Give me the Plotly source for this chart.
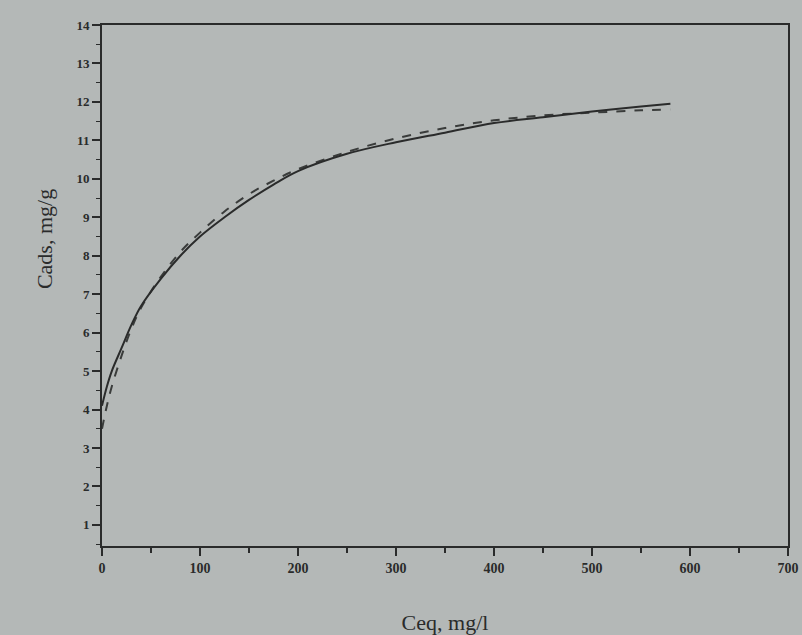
import plotly.graph_objects as go

ceq = [0, 5, 10, 20, 30, 40, 60, 80, 100, 125, 150, 175, 200, 250, 300, 350, 400, 450, 500, 550, 580]
cads_solid = [4.1, 4.6, 5.0, 5.6, 6.2, 6.7, 7.4, 8.0, 8.5, 9.0, 9.45, 9.85, 10.2, 10.65, 10.95, 11.2, 11.45, 11.6, 11.75, 11.88, 11.95]
cads_dashed = [3.5, 4.1, 4.6, 5.4, 6.1, 6.65, 7.45, 8.1, 8.6, 9.15, 9.6, 9.95, 10.25, 10.7, 11.05, 11.32, 11.52, 11.65, 11.72, 11.78, 11.8]

x_ticks = [0, 100, 200, 300, 400, 500, 600, 700]
y_ticks = list(range(1, 15))

bg = "#b4b8b7"
ink = "#2a2b2b"

fig = go.Figure()
fig.add_trace(go.Scatter(x=ceq, y=cads_dashed, mode="lines", line=dict(color="#3a3c3b", width=2, dash="dash", shape="spline"), showlegend=False))
fig.add_trace(go.Scatter(x=ceq, y=cads_solid, mode="lines", line=dict(color=ink, width=2, shape="spline"), showlegend=False))

font_family = "Liberation Serif"
fig.update_layout(
    width=802, height=635,
    margin=dict(l=102, r=14, t=25, b=89),
    paper_bgcolor=bg, plot_bgcolor=bg,
    font=dict(family=font_family, color=ink),
)
fig.update_xaxes(
    range=[0, 700], tickvals=x_ticks, ticktext=[str(v) for v in x_ticks],
    automargin=False,
    showgrid=False, zeroline=False, showline=True, linecolor=ink, linewidth=2, mirror=True,
    ticks="outside", ticklen=8, tickwidth=1.5, tickcolor=ink,
    minor=dict(ticks="outside", dtick=50, ticklen=5, tickcolor=ink, tickwidth=1.5),
    tickfont=dict(size=14, family=font_family, weight="bold"),
    title=dict(text="Ceq, mg/l", font=dict(size=22, family=font_family), standoff=40),
)
fig.update_yaxes(
    range=[0.45, 14], tickvals=y_ticks, ticktext=[str(v) for v in y_ticks],
    automargin=False,
    showgrid=False, zeroline=False, showline=True, linecolor=ink, linewidth=2, mirror=True,
    ticks="outside", ticklen=8, tickwidth=1.5, tickcolor=ink,
    minor=dict(ticks="outside", dtick=0.5, ticklen=4, tickcolor=ink, tickwidth=1.2),
    tickfont=dict(size=13, family=font_family, weight="bold"),
)
fig.add_annotation(text="Cads, mg/g", xref="paper", yref="paper", x=-0.105, y=0.59,
                   textangle=-90, showarrow=False, font=dict(size=22, family=font_family, color=ink))
fig.write_html("out.html", config={"displayModeBar": False},
               post_script="document.body.style.margin='0';document.body.style.background='#b4b8b7';")
